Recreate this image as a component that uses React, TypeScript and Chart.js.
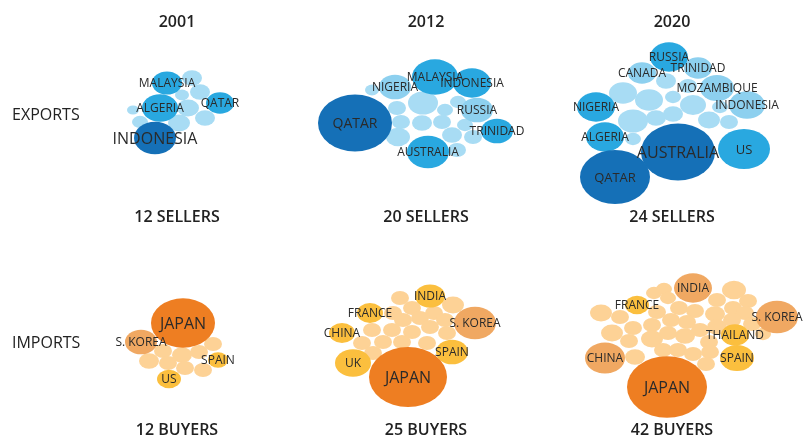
import React, { useEffect, useRef } from "react";
import { Chart, registerables } from "chart.js";

Chart.register(...registerables);

// tone: 0 = light, 1 = light (labelled), 2 = medium, 3 = dark
type B = [number, number, number, number, string?];

const years = ["2001", "2012", "2020"];
const rowLabels = ["EXPORTS", "IMPORTS"];
const sellerCounts = [12, 20, 24];
const buyerCounts = [12, 25, 42];

const exports2001: B[] = [
  [192, 78, 10, 0], [182, 95, 7, 0], [200, 92, 10, 0], [133, 110, 6, 0],
  [188, 108, 11, 0], [205, 118, 10, 0], [140, 122, 8, 0], [179, 123, 11, 0],
  [167, 83, 15, 2, "MALAYSIA"], [220, 103, 14, 2, "QATAR"], [160, 108, 18, 2, "ALGERIA"],
  [155, 138, 21, 3, "INDONESIA"],
];

const exports2012: B[] = [
  [372, 90, 7, 0], [423, 103, 15, 0], [397, 108, 9, 0], [445, 110, 8, 0],
  [458, 102, 8, 0], [401, 122, 9, 0], [422, 123, 10, 0], [442, 122, 9, 0],
  [465, 125, 8, 0], [398, 137, 12, 0], [452, 135, 10, 0], [473, 137, 9, 0],
  [457, 150, 9, 0],
  [395, 87, 16, 1, "NIGERIA"], [477, 110, 16, 1, "RUSSIA"],
  [435, 77, 23, 2, "MALAYSIA"], [472, 83, 19, 2, "INDONESIA"], [497, 131, 16, 2, "TRINIDAD"],
  [428, 152, 21, 2, "AUSTRALIA"],
  [355, 123, 37, 3, "QATAR"],
];

const exports2020: B[] = [
  [666, 81, 10, 0], [623, 93, 14, 0], [649, 100, 14, 0], [673, 97, 8, 0],
  [693, 105, 13, 0], [720, 107, 8, 0], [633, 121, 15, 0], [656, 118, 10, 0],
  [673, 114, 10, 0], [709, 120, 11, 0], [729, 122, 9, 0], [633, 139, 8, 0],
  [688, 86, 9, 0],
  [698, 68, 14, 1, "TRINIDAD"], [642, 73, 14, 1, "CANADA"], [717, 88, 17, 1, "MOZAMBIQUE"],
  [747, 105, 18, 1, "INDONESIA"],
  [669, 57, 19, 2, "RUSSIA"], [596, 107, 19, 2, "NIGERIA"], [605, 137, 19, 2, "ALGERIA"],
  [744, 149, 26, 2, "US"],
  [678, 152, 37, 3, "AUSTRALIA"], [615, 177, 35, 3, "QATAR"],
];

const imports2001: B[] = [
  [213, 344, 9, 0], [163, 351, 9, 0], [182, 355, 10, 0], [199, 352, 9, 0],
  [149, 361, 10, 0], [168, 363, 9, 0], [185, 368, 9, 0], [203, 370, 9, 0],
  [218, 360, 10, 1, "SPAIN"], [169, 379, 12, 1, "US"],
  [141, 342, 16, 2, "S. KOREA"],
  [183, 323, 32, 3, "JAPAN"],
];

const imports2012: B[] = [
  [400, 298, 9, 0], [453, 305, 11, 0], [412, 308, 9, 0], [393, 313, 9, 0],
  [420, 318, 9, 0], [434, 313, 9, 0], [403, 320, 9, 0], [445, 320, 9, 0],
  [372, 330, 9, 0], [392, 330, 9, 0], [412, 332, 9, 0], [430, 327, 9, 0],
  [447, 333, 9, 0], [362, 343, 9, 0], [383, 342, 9, 0], [402, 342, 9, 0],
  [427, 343, 9, 0], [373, 353, 9, 0],
  [430, 296, 15, 1, "INDIA"], [370, 313, 13, 1, "FRANCE"], [342, 333, 13, 1, "CHINA"],
  [353, 363, 18, 1, "UK"], [452, 352, 16, 1, "SPAIN"],
  [475, 323, 21, 2, "S. KOREA"],
  [408, 377, 39, 3, "JAPAN"],
];

const imports2020: B[] = [
  [601, 313, 11, 0], [654, 293, 8, 0], [664, 289, 8, 0], [668, 298, 8, 0],
  [734, 290, 12, 0], [717, 300, 9, 0], [748, 301, 9, 0], [620, 317, 9, 0],
  [657, 312, 9, 0], [679, 308, 9, 0], [695, 311, 9, 0], [715, 314, 10, 0],
  [733, 308, 9, 0], [745, 313, 9, 0], [612, 333, 11, 0], [633, 328, 9, 0],
  [652, 325, 9, 0], [671, 320, 9, 0], [687, 322, 9, 0], [717, 327, 10, 0],
  [732, 320, 9, 0], [752, 324, 9, 0], [629, 341, 9, 0], [652, 339, 11, 0],
  [668, 333, 9, 0], [685, 336, 10, 0], [700, 330, 9, 0], [709, 342, 9, 0],
  [635, 357, 10, 0], [663, 350, 9, 0], [678, 350, 9, 0], [693, 354, 9, 0],
  [710, 352, 9, 0], [706, 364, 9, 0], [763, 334, 8, 0],
  [637, 305, 12, 1, "FRANCE"], [735, 335, 14, 1, "THAILAND"], [737, 358, 17, 1, "SPAIN"],
  [693, 288, 19, 2, "INDIA"], [777, 317, 21, 2, "S. KOREA"], [605, 358, 20, 2, "CHINA"],
  [667, 387, 40, 3, "JAPAN"],
];

const bluePalette = ["#a8dcf4", "#8dd0ef", "#29a8e0", "#1570b7"];
const orangePalette = ["#fdd296", "#fbbf3e", "#f0a862", "#ee7e22"];

const clusters = [
  { data: exports2001, palette: bluePalette },
  { data: exports2012, palette: bluePalette },
  { data: exports2020, palette: bluePalette },
  { data: imports2001, palette: orangePalette },
  { data: imports2012, palette: orangePalette },
  { data: imports2020, palette: orangePalette },
];

// label font sizes by tone, with a few overrides (cluster index -> label -> px)
const toneFontSize = [12, 12, 12, 16];
const fontOverrides: Record<number, Record<string, number>> = {
  1: { QATAR: 14 },
  2: { QATAR: 13, US: 13 },
};

const ASPECT = 0.77;
const FONT = "'Open Sans', 'DejaVu Sans', sans-serif";

const ellipsePlugin = {
  id: "ellipseBubbles",
  beforeDatasetsDraw(chart: any) {
    const ctx = chart.ctx;
    chart.data.datasets.forEach((ds: any, i: number) => {
      const meta = chart.getDatasetMeta(i);
      meta.data.forEach((el: any, j: number) => {
        const r = el.options.radius;
        ctx.save();
        ctx.beginPath();
        ctx.ellipse(el.x, el.y, r, r * ASPECT, 0, 0, Math.PI * 2);
        ctx.fillStyle = ds.backgroundColor[j];
        ctx.fill();
        ctx.restore();
      });
    });
    return false;
  },
  afterDraw(chart: any) {
    const ctx = chart.ctx;
    const xs = chart.scales.x;
    const ys = chart.scales.y;
    ctx.save();
    ctx.textAlign = "center";
    ctx.textBaseline = "middle";
    ctx.fillStyle = "#2a2a2a";
    chart.data.datasets.forEach((ds: any, i: number) => {
      const meta = chart.getDatasetMeta(i);
      meta.data.forEach((el: any, j: number) => {
        const label = ds.labels[j];
        if (!label) return;
        const size = (fontOverrides[i] && fontOverrides[i][label]) || toneFontSize[ds.tones[j]];
        ctx.font = `${size}px ${FONT}`;
        ctx.fillText(label, el.x, el.y + 1);
      });
    });

    ctx.fillStyle = "#222";
    const colX = [177, 426, 672];
    ctx.font = `600 16px ${FONT}`;
    years.forEach((y, i) => ctx.fillText(y, xs.getPixelForValue(colX[i]), ys.getPixelForValue(22)));
    sellerCounts.forEach((n, i) =>
      ctx.fillText(`${n} SELLERS`, xs.getPixelForValue(colX[i]), ys.getPixelForValue(217))
    );
    buyerCounts.forEach((n, i) =>
      ctx.fillText(`${n} BUYERS`, xs.getPixelForValue(colX[i]), ys.getPixelForValue(430))
    );
    ctx.textAlign = "left";
    ctx.font = `500 16px ${FONT}`;
    ctx.fillText(rowLabels[0], xs.getPixelForValue(12), ys.getPixelForValue(115));
    ctx.fillText(rowLabels[1], xs.getPixelForValue(12), ys.getPixelForValue(343));
    ctx.restore();
  },
};

export default function App() {
  const ref = useRef<HTMLCanvasElement | null>(null);
  useEffect(() => {
    document.body.style.margin = "0";
    const canvas = ref.current!;
    const datasets = clusters.map((c) => ({
      data: c.data.map((b) => ({ x: b[0], y: b[1], r: b[2] })),
      backgroundColor: c.data.map((b) => c.palette[b[3]]),
      labels: c.data.map((b) => b[4] || ""),
      tones: c.data.map((b) => b[3]),
      borderWidth: 0,
    }));
    const chart = new Chart(canvas, {
      type: "bubble",
      data: { datasets: datasets as any },
      options: {
        animation: false,
        responsive: false,
        events: [],
        layout: { padding: 0, autoPadding: false },
        plugins: { legend: { display: false }, tooltip: { enabled: false } },
        scales: {
          x: { type: "linear", min: 0, max: 812, display: false },
          y: { type: "linear", min: 0, max: 438, reverse: true, display: false },
        },
      },
      plugins: [ellipsePlugin],
    });
    return () => chart.destroy();
  }, []);
  return (
    <div style={{ width: 812, height: 438, background: "#fff" }}>
      <canvas ref={ref} width={812} height={438} style={{ display: "block" }} />
    </div>
  );
}
